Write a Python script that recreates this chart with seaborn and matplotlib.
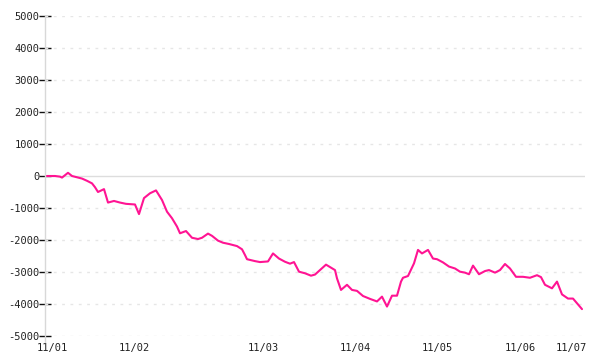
import matplotlib
matplotlib.use("Agg")
import matplotlib.pyplot as plt
import seaborn as sns
import pandas as pd

# trade sequence position and cumulative P/L
trade = [0, 8, 13, 15, 21, 25, 30, 35, 40, 45, 48, 51, 57, 61, 67, 73, 79, 88, 92, 97,
         103, 109, 115, 120, 125, 130, 133, 139, 145, 151, 155, 161, 165, 171, 176, 182,
         190, 195, 198, 200, 208, 213, 221, 226, 232, 238, 243, 247, 252, 258, 264, 268,
         279, 288, 290, 294, 300, 305, 310, 316, 323, 330, 335, 340, 345, 350, 354, 356,
         361, 367, 371, 375, 381, 386, 390, 396, 402, 408, 413, 418, 422, 426, 432, 438,
         442, 448, 453, 458, 463, 469, 476, 483, 490, 494, 498, 505, 510, 515, 521, 526, 535]
pnl = [0, 0, -20, -50, 100, 0, -40, -80, -150, -230, -350, -500, -410, -830, -780, -830,
       -870, -890, -1190, -690, -540, -450, -750, -1115, -1320, -1580, -1790, -1720, -1930,
       -1970, -1930, -1800, -1870, -2020, -2085, -2125, -2190, -2290, -2470, -2600, -2660,
       -2690, -2670, -2420, -2580, -2680, -2740, -2690, -2990, -3040, -3115, -3080, -2770,
       -2940, -3200, -3560, -3400, -3560, -3590, -3750, -3840, -3920, -3770, -4080, -3740,
       -3740, -3300, -3180, -3125, -2730, -2310, -2420, -2310, -2580, -2600, -2700, -2830,
       -2890, -2990, -3020, -3070, -2800, -3070, -2970, -2940, -3020, -2940, -2750, -2890,
       -3150, -3150, -3180, -3100, -3160, -3400, -3510, -3300, -3700, -3830, -3830, -4160]

tick_pos = [5, 87, 216, 308, 390, 473, 524]
tick_labels = ["11/01", "11/02", "11/03", "11/04", "11/05", "11/06", "11/07"]
y_ticks = [5000, 4000, 3000, 2000, 1000, 0, -1000, -2000, -3000, -4000, -5000]

df = pd.DataFrame({"trade": trade, "pnl": pnl})

sns.set_style("white")
plt.rcParams["font.family"] = ["DejaVu Sans Mono"]

fig = plt.figure(figsize=(6, 3.6), dpi=100)
ax = fig.add_axes([45 / 600, 24 / 360, 540 / 600, 320 / 360])

for v in y_ticks:
    if v == 0:
        ax.axhline(v, color="#dddddd", lw=1.0, zorder=1)
    else:
        ax.axhline(v, color="#e6e6e6", lw=1.0, ls=(0, (2, 4)), zorder=1)

sns.lineplot(data=df, x="trade", y="pnl", ax=ax, color="#ff1493", lw=1.5, zorder=3)

ax.set_xlim(-2, 538)
ax.set_ylim(-5000, 5000)
ax.set_yticks(y_ticks)
ax.set_yticklabels([str(v) for v in y_ticks], fontsize=7.5, color="#222222")
ax.set_xticks(tick_pos)
ax.set_xticklabels(tick_labels, fontsize=7.5, color="#222222")
ax.tick_params(axis="y", left=True, direction="inout", length=8, width=1,
               color="#111111", pad=0)
ax.tick_params(axis="x", bottom=False, length=0, pad=5)
ax.set_xlabel("")
ax.set_ylabel("")
for s in ["top", "right", "bottom"]:
    ax.spines[s].set_visible(False)
ax.spines["left"].set_color("#d8d8d8")
ax.spines["left"].set_linewidth(1.0)
ax.spines["left"].set_bounds(-5200, 5000)
ax.spines["left"].set_zorder(2)

fig.savefig("out.png", dpi=100)
